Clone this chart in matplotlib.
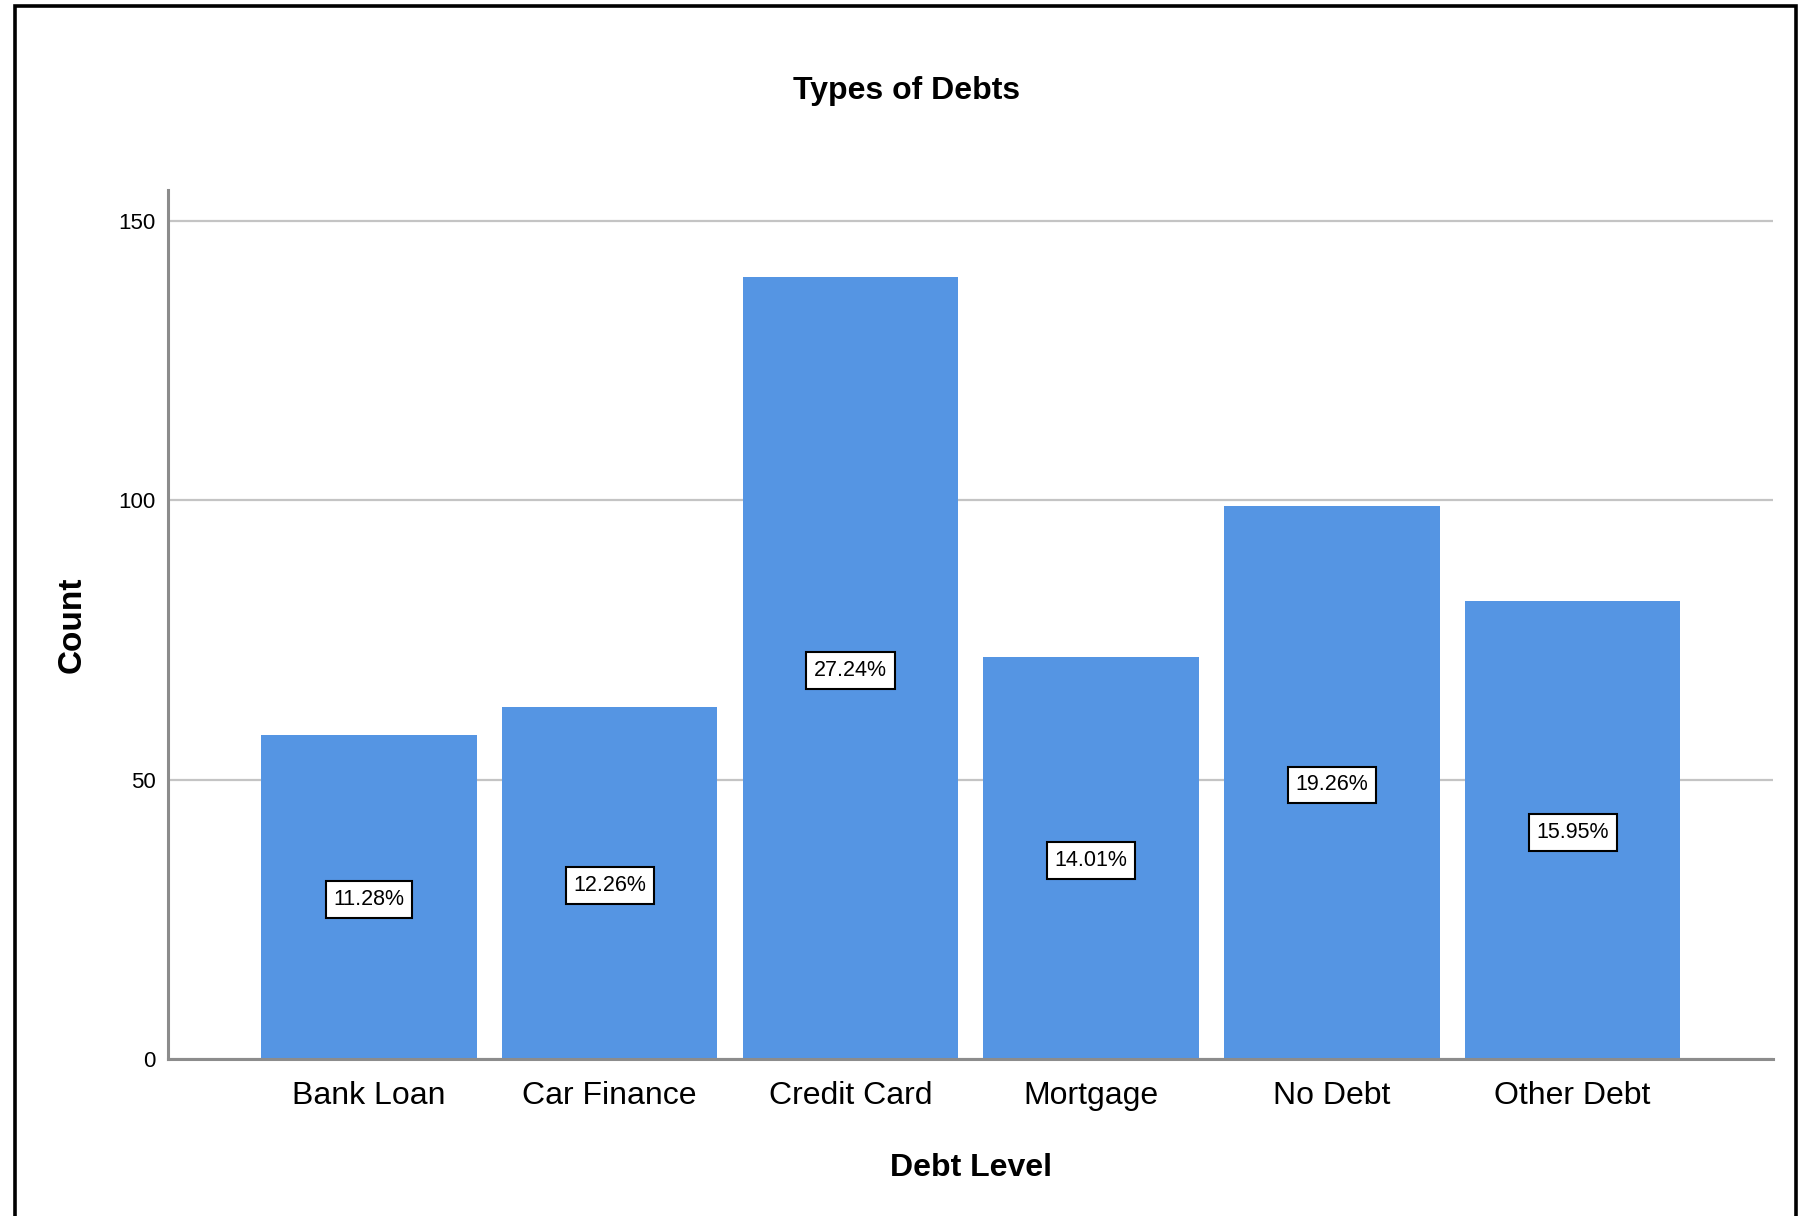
import matplotlib
matplotlib.use("Agg")
import matplotlib.pyplot as plt
from matplotlib.patches import Rectangle

plt.rcParams["font.family"] = ["Liberation Sans", "DejaVu Sans"]

# debt type counts
categories = ["Bank Loan", "Car Finance", "Credit Card", "Mortgage", "No Debt", "Other Debt"]
counts = [58, 63, 140, 72, 99, 82]
percents = [11.28, 12.26, 27.24, 14.01, 19.26, 15.95]
y_ticks = [0, 50, 100, 150]

bar_color = "#5595e3"
axis_gray = "#8c8c8c"
grid_gray = "#c4c4c4"

fig = plt.figure(figsize=(18.05, 12.16), dpi=100)
ax = fig.add_axes([0.0931, 0.1291, 0.8892, 0.7146])

x = list(range(len(categories)))
ax.bar(x, counts, width=0.895, color=bar_color, zorder=2)

for xi, c, p in zip(x, counts, percents):
    ax.text(xi, c / 2, f"{p:.2f}%", ha="center", va="center_baseline", fontsize=15.5, zorder=3,
            bbox=dict(boxstyle="square,pad=0.36", facecolor="white", edgecolor="black", linewidth=1.5))

ax.set_xlim(-0.835, len(categories) - 1 + 0.833)
ax.set_ylim(0, 155.5)
ax.set_yticks(y_ticks)
ax.set_yticklabels([str(t) for t in y_ticks], fontsize=16)
ax.set_xticks(x)
ax.set_xticklabels(categories, fontsize=23)
ax.tick_params(axis="x", length=0, pad=16)
ax.tick_params(axis="y", length=0, pad=9)

ax.yaxis.grid(True, color=grid_gray, linewidth=1.6, zorder=1)
ax.set_axisbelow(True)
for side in ["top", "right"]:
    ax.spines[side].set_visible(False)
for side in ["left", "bottom"]:
    ax.spines[side].set_color(axis_gray)
    ax.spines[side].set_linewidth(2.2)
    ax.spines[side].set_zorder(4)

fig.text(0.502, 0.925, "Types of Debts", ha="center", va="center", fontsize=23, fontweight="bold")
fig.text(0.0931 + 0.8892 / 2, 0.0395, "Debt Level", ha="center", va="center", fontsize=23, fontweight="bold")
fig.text(0.0402, 0.1291 + 0.7146 / 2, "Count", ha="center", va="center", rotation=90,
         fontsize=24, fontweight="bold")

# outer frame, open at the bottom edge
fig.patches.append(Rectangle((0.0085, -0.05), 0.9865, 1.045, transform=fig.transFigure,
                             fill=False, edgecolor="black", linewidth=2.6))

fig.savefig("out.png", dpi=100, facecolor="white")
